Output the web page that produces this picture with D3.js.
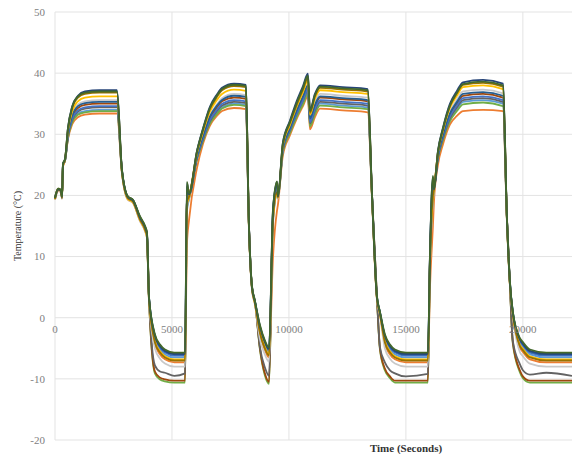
<!DOCTYPE html>
<html>
<head>
<meta charset="utf-8">
<script src="https://cdn.jsdelivr.net/npm/d3@7"></script>
<style>
  html, body { margin: 0; padding: 0; background: #fff; }
  text { font-family: "Liberation Serif", "DejaVu Serif", serif; }
</style>
</head>
<body>
<div id="chart"></div>
<script>
// time in seconds (shared by every sensor trace)
const times = [
  0, 130, 250, 300, 342, 430, 555, 730, 980, 1280, 1900, 2650,
  2860, 3120, 3330, 3630, 3850, 3930, 4020, 4270, 4490, 4700, 5100, 5560,
  5640, 5730, 6070, 6330, 6620, 6920, 7140, 7650, 8160,
  8290, 8420, 8550, 8760, 8970, 9150,
  9320, 9490, 9530, 9740, 10040, 10340, 10600, 10810, 10900, 11110, 11330, 12300, 13370,
  13550, 13760, 13890, 14100, 14320, 14530, 15000, 15940,
  16030, 16155, 16200, 16370, 16580, 16880, 17180, 17440, 18300, 19150,
  19320, 19440, 19570, 19870, 20000, 20300, 21000, 22100
];

const darkBlue = [
  19.6, 21.0, 20.9, 19.8, 25.1, 26.0, 31.1, 34.5, 36.3, 37.0, 37.2, 37.2,
  24.2, 19.7, 19.2, 16.4, 14.8, 13.8, 3.2, -2.9, -4.6, -5.4, -5.9, -5.9,
  22.0, 20.2, 27.3, 31.0, 34.5, 36.5, 37.6, 38.3, 38.1,
  15.2, 5.0, 2.6, -1.4, -3.9, -5.1,
  17.5, 22.2, 19.8, 28.6, 32.2, 35.5, 37.9, 39.9, 34.0, 36.6, 38.0, 37.7, 37.4,
  20.3, 3.5, 0.9, -2.9, -4.6, -5.4, -5.9, -5.9,
  10.5, 23.0, 21.0, 27.3, 31.0, 35.0, 37.1, 38.5, 38.9, 38.3,
  16.2, 6.1, 0.9, -3.5, -4.2, -5.4, -5.9, -5.9
];
const darkGold = [
  19.4, 20.9, 20.7, 19.6, 24.9, 25.9, 30.9, 34.2, 36.0, 36.6, 36.8, 36.8,
  24.0, 19.5, 19.0, 16.1, 14.4, 13.4, 2.9, -4.0, -5.7, -6.5, -7.0, -7.0,
  19.0, 19.8, 27.2, 30.7, 34.1, 36.1, 37.2, 37.9, 37.7,
  15.0, 4.9, 2.4, -2.5, -5.0, -6.2,
  16.5, 20.5, 19.7, 28.3, 31.8, 34.9, 37.3, 39.2, 33.5, 36.2, 37.6, 37.3, 37.0,
  20.0, 3.3, 0.7, -4.0, -5.7, -6.5, -7.0, -7.0,
  9.5, 20.0, 21.0, 27.1, 30.7, 34.6, 36.7, 38.1, 38.4, 37.8,
  16.0, 5.9, 0.7, -4.6, -5.3, -6.5, -7.0, -7.0
];
const gold = [
  19.5, 21.1, 20.8, 19.7, 24.8, 25.9, 30.6, 33.7, 35.4, 36.0, 36.2, 36.2,
  23.8, 19.4, 18.9, 16.0, 14.3, 13.2, 2.8, -3.8, -5.5, -6.3, -6.8, -6.8,
  18.5, 19.6, 26.9, 30.4, 33.7, 35.6, 36.6, 37.3, 37.1,
  14.8, 4.8, 2.3, -2.3, -4.8, -6.0,
  16.0, 20.2, 19.6, 28.1, 31.5, 34.6, 36.9, 38.8, 33.2, 35.8, 37.2, 36.9, 36.6,
  19.8, 3.2, 0.6, -3.8, -5.5, -6.3, -6.8, -6.8,
  9.0, 19.5, 20.9, 27.0, 30.5, 34.3, 36.3, 37.7, 38.0, 37.4,
  15.8, 5.8, 0.6, -4.4, -5.1, -6.3, -6.8, -6.8
];
const lightGray = [
  19.3, 20.8, 20.6, 19.5, 24.9, 25.8, 30.3, 33.3, 34.9, 35.4, 35.6, 35.6,
  23.7, 19.3, 18.8, 15.8, 14.1, 13.0, 2.6, -5.0, -6.7, -7.5, -8.0, -8.0,
  18.0, 19.4, 26.6, 30.0, 33.1, 34.9, 35.9, 36.6, 36.4,
  14.6, 4.6, 2.1, -3.5, -6.0, -7.2,
  15.5, 20.0, 19.5, 27.8, 31.2, 34.1, 36.3, 38.2, 32.8, 35.2, 36.6, 36.3, 36.0,
  19.6, 3.0, 0.4, -5.0, -6.7, -7.5, -8.0, -8.0,
  8.5, 19.0, 20.8, 26.7, 30.1, 33.7, 35.7, 37.0, 37.3, 36.7,
  15.6, 5.6, 0.4, -5.6, -6.3, -7.5, -8.0, -8.0
];
const darkRed = [
  19.6, 21.0, 20.7, 19.8, 25.0, 25.8, 30.0, 32.8, 34.3, 34.8, 35.0, 35.0,
  24.1, 19.6, 19.1, 16.3, 14.6, 13.6, 3.1, -8.8, -9.8, -10.1, -10.3, -10.3,
  18.8, 19.8, 26.4, 29.6, 32.6, 34.4, 35.4, 36.0, 35.8,
  15.1, 5.0, 2.5, -5.0, -9.1, -10.5,
  16.8, 20.5, 19.7, 27.7, 30.9, 33.8, 36.0, 37.8, 32.5, 34.6, 36.0, 35.7, 35.4,
  20.1, 3.4, -5.0, -8.3, -9.6, -10.3, -10.3, -10.3,
  9.8, 19.8, 21.0, 26.5, 29.7, 33.2, 35.0, 36.3, 36.6, 36.0,
  16.1, 6.0, -4.0, -8.6, -9.6, -10.3, -10.3, -10.3
];
const blue = [
  19.5, 20.9, 20.8, 19.6, 25.0, 25.8, 29.8, 32.5, 33.9, 34.4, 34.6, 34.6,
  23.9, 19.5, 19.0, 16.2, 14.5, 13.5, 3.0, -3.2, -4.9, -5.7, -6.2, -6.2,
  18.2, 19.6, 26.2, 29.4, 32.3, 34.0, 35.0, 35.6, 35.4,
  15.0, 4.9, 2.5, -1.7, -4.2, -5.4,
  16.2, 20.3, 19.6, 27.5, 30.7, 33.5, 35.6, 37.4, 32.0, 34.2, 35.6, 35.3, 35.0,
  20.0, 3.4, 0.8, -3.2, -4.9, -5.7, -6.2, -6.2,
  9.2, 19.4, 20.9, 26.3, 29.5, 32.9, 34.7, 35.9, 36.2, 35.6,
  16.0, 6.0, 0.8, -3.8, -4.5, -5.7, -6.2, -6.2
];
const darkGray = [
  19.7, 21.1, 20.9, 19.8, 25.1, 25.8, 29.7, 32.3, 33.7, 34.2, 34.4, 34.4,
  24.2, 19.8, 19.3, 16.5, 14.9, 13.9, 3.3, -7.8, -8.8, -9.0, -9.5, -9.1,
  21.5, 20.0, 26.1, 29.2, 32.1, 33.8, 34.7, 35.3, 35.1,
  15.3, 5.1, 2.7, -4.8, -8.1, -9.5,
  17.8, 21.8, 19.8, 27.4, 30.6, 33.4, 35.5, 37.2, 31.8, 33.9, 35.3, 35.0, 34.7,
  20.3, 3.6, -4.8, -7.3, -8.6, -9.1, -9.6, -9.2,
  10.3, 22.5, 21.0, 26.2, 29.3, 32.6, 34.4, 35.6, 35.9, 35.3,
  16.3, 6.2, -3.8, -7.6, -8.6, -9.3, -9.0, -9.5
];
const lightBlue = [
  19.4, 20.8, 20.6, 19.6, 24.9, 25.7, 29.5, 32.0, 33.4, 33.8, 34.0, 34.0,
  23.9, 19.4, 18.9, 16.0, 14.3, 13.3, 2.9, -3.5, -5.2, -6.0, -6.5, -6.5,
  17.5, 19.4, 26.0, 29.0, 31.9, 33.5, 34.4, 35.0, 34.8,
  14.9, 4.8, 2.4, -2.0, -4.5, -5.7,
  15.8, 20.0, 19.5, 27.3, 30.4, 33.1, 35.2, 36.9, 31.6, 33.6, 35.0, 34.7, 34.4,
  19.9, 3.3, 0.7, -3.5, -5.2, -6.0, -6.5, -6.5,
  8.8, 19.2, 20.8, 26.1, 29.2, 32.4, 34.1, 35.3, 35.6, 35.0,
  15.9, 5.9, 0.7, -4.1, -4.8, -6.0, -6.5, -6.5
];
const green = [
  19.5, 20.9, 20.7, 19.7, 25.0, 25.7, 29.4, 31.9, 33.2, 33.6, 33.8, 33.8,
  24.0, 19.5, 19.0, 16.2, 14.6, 13.6, 3.0, -9.1, -10.1, -10.4, -10.6, -10.6,
  18.0, 19.5, 25.9, 28.9, 31.7, 33.3, 34.2, 34.8, 34.6,
  15.0, 4.9, 2.5, -5.2, -9.4, -10.8,
  16.3, 20.1, 19.6, 27.1, 30.2, 32.9, 34.9, 36.6, 31.3, 33.3, 34.7, 34.4, 34.1,
  20.0, 3.3, -5.2, -8.6, -9.9, -10.6, -10.6, -10.6,
  9.5, 19.5, 20.9, 26.0, 29.0, 32.1, 33.8, 34.9, 35.2, 34.6,
  16.0, 5.9, -4.2, -8.9, -9.9, -10.6, -10.6, -10.6
];
const orange = [
  19.3, 20.7, 20.6, 19.5, 24.7, 25.7, 29.2, 31.6, 32.8, 33.2, 33.4, 33.4,
  23.7, 19.3, 18.8, 15.9, 14.2, 13.1, 2.7, -4.3, -6.0, -6.8, -7.3, -7.3,
  12.0, 16.0, 24.5, 28.5, 31.4, 33.0, 33.8, 34.3, 34.1,
  14.7, 4.7, 2.2, -2.8, -5.3, -6.5,
  10.0, 17.5, 18.5, 26.5, 29.8, 32.6, 34.6, 36.2, 30.8, 32.8, 34.2, 33.9, 33.6,
  19.7, 3.1, 0.5, -4.3, -6.0, -6.8, -7.3, -7.3,
  5.0, 15.0, 19.0, 25.0, 28.3, 31.6, 33.0, 33.8, 34.0, 33.8,
  15.7, 5.7, 0.5, -4.9, -5.6, -6.8, -7.3, -7.3
];
const steelBlue = [
  19.6, 21.0, 20.9, 19.8, 25.1, 25.8, 30.2, 33.0, 34.6, 35.1, 35.3, 35.3,
  24.2, 19.7, 19.2, 16.4, 14.7, 13.7, 3.2, -3.0, -4.7, -5.5, -6.0, -6.0,
  21.5, 20.1, 26.5, 29.8, 32.9, 34.7, 35.6, 36.3, 36.1,
  15.2, 5.0, 2.6, -1.5, -4.0, -5.2,
  17.3, 21.8, 19.8, 27.8, 31.0, 34.0, 36.2, 38.0, 32.6, 34.8, 36.2, 35.9, 35.6,
  20.2, 3.5, 0.9, -3.0, -4.7, -5.5, -6.0, -6.0,
  10.2, 22.5, 21.0, 26.6, 29.9, 33.4, 35.3, 36.6, 36.9, 36.3,
  16.1, 6.1, 0.9, -3.6, -4.3, -5.5, -6.0, -6.0
];
const darkGreen = [
  19.6, 21.1, 20.9, 19.8, 25.2, 26.0, 31.0, 34.4, 36.2, 36.8, 37.0, 37.0,
  24.3, 19.8, 19.3, 16.6, 15.0, 14.0, 3.3, -2.7, -4.4, -5.2, -5.7, -5.7,
  22.2, 20.3, 27.2, 30.9, 34.3, 36.3, 37.4, 38.1, 37.9,
  15.3, 5.2, 2.7, -1.2, -3.7, -4.9,
  17.8, 22.3, 19.9, 28.5, 32.0, 35.2, 37.6, 39.6, 33.8, 36.4, 37.8, 37.5, 37.2,
  20.4, 3.6, 1.0, -2.7, -4.4, -5.2, -5.7, -5.7,
  10.6, 23.2, 21.1, 27.2, 30.9, 34.7, 36.8, 38.2, 38.6, 38.0,
  16.3, 6.3, 1.0, -3.3, -4.0, -5.2, -5.7, -5.7
];

// draw order: first drawn sits at the back
const seriesNames = ["lightBlue", "orange", "green", "darkRed", "darkGray", "lightGray",
  "blue", "steelBlue", "gold", "darkGold", "darkBlue", "darkGreen"];
const seriesValues = [lightBlue, orange, green, darkRed, darkGray, lightGray,
  blue, steelBlue, gold, darkGold, darkBlue, darkGreen];
const seriesColors = ["#5B9BD5", "#ED7D31", "#70AD47", "#9E480E", "#636363", "#C9C9C9",
  "#4472C4", "#255E91", "#FFC000", "#997300", "#264478", "#43682B"];

const xTicks = [0, 5000, 10000, 15000, 20000];
const yTicks = [-20, -10, 0, 10, 20, 30, 40, 50];

const width = 572, height = 454;

const svg = d3.select("#chart").append("svg")
  .attr("width", width)
  .attr("height", height);

const x = d3.scaleLinear().domain([0, 22100]).range([55, 572]);
const y = d3.scaleLinear().domain([-20, 50]).range([440, 12]);

// gridlines
svg.append("g")
  .selectAll("line")
  .data(yTicks)
  .enter()
  .append("line")
  .attr("x1", x(0)).attr("x2", width)
  .attr("y1", d => y(d)).attr("y2", d => y(d))
  .attr("stroke", "#e3e3e3")
  .attr("stroke-width", 1);

svg.append("g")
  .selectAll("line")
  .data(xTicks)
  .enter()
  .append("line")
  .attr("x1", d => x(d)).attr("x2", d => x(d))
  .attr("y1", y(50)).attr("y2", y(-20))
  .attr("stroke", "#e3e3e3")
  .attr("stroke-width", 1);

// y tick labels
svg.append("g")
  .selectAll("text")
  .data(yTicks)
  .enter()
  .append("text")
  .attr("x", 45)
  .attr("y", d => y(d))
  .attr("dy", "0.35em")
  .attr("text-anchor", "end")
  .attr("font-size", 11)
  .attr("fill", "#808080")
  .text(d => d);

// traces
const line = d3.line()
  .x((d, i) => x(times[i]))
  .y(d => y(d))
  .curve(d3.curveMonotoneX);

svg.append("g")
  .selectAll("path")
  .data(seriesValues)
  .enter()
  .append("path")
  .attr("d", d => line(d))
  .attr("fill", "none")
  .attr("stroke", (d, i) => seriesColors[i])
  .attr("stroke-width", 1.8)
  .attr("stroke-linejoin", "round");

// x tick labels sit just under the zero line
svg.append("g")
  .selectAll("text")
  .data(xTicks)
  .enter()
  .append("text")
  .attr("x", d => x(d))
  .attr("y", y(0) + 11)
  .attr("dy", "0.35em")
  .attr("text-anchor", "middle")
  .attr("font-size", 11)
  .attr("fill", "#808080")
  .text(d => d);

// axis titles
svg.append("text")
  .attr("x", 406)
  .attr("y", 452)
  .attr("text-anchor", "middle")
  .attr("font-size", 11)
  .attr("font-weight", "bold")
  .attr("fill", "#333")
  .text("Time (Seconds)");

svg.append("text")
  .attr("transform", "translate(21,226) rotate(-90)")
  .attr("text-anchor", "middle")
  .attr("font-size", 10)
  .attr("fill", "#333")
  .text("Temperature (°C)");
</script>
</body>
</html>
